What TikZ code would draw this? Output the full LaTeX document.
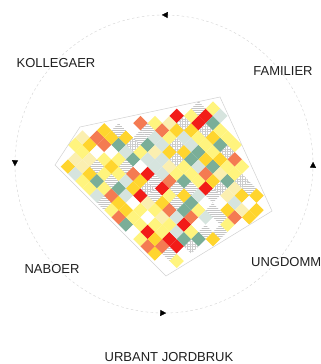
\documentclass[tikz,border=0pt]{standalone}
\usepackage{fontspec}
\setmainfont{Liberation Sans}
\usetikzlibrary{arrows.meta,decorations.markings,patterns.meta}
\definecolor{colRed}{HTML}{F21C18}
\definecolor{colOrg}{HTML}{F47B52}
\definecolor{colGold}{HTML}{FFD52E}
\definecolor{colYel}{HTML}{FFF47E}
\definecolor{colPale}{HTML}{FBEFB0}
\definecolor{colTeal}{HTML}{7AAE98}
\definecolor{colMint}{HTML}{D6E4DE}
\tikzset{
  ring/.style={draw=gray!35, line width=0.4pt, dash pattern=on 2.5pt off 2.5pt},
  lbl/.style={font=\fontsize{13}{15}\selectfont, text=black!88, inner sep=0pt},
  tRed/.style={fill=colRed}, tOrg/.style={fill=colOrg}, tGold/.style={fill=colGold},
  tYel/.style={fill=colYel}, tPale/.style={fill=colPale}, tTeal/.style={fill=colTeal},
  tMint/.style={fill=colMint}, tWhite/.style={fill=white},
  tHatch/.style={pattern={Lines[angle=0, distance=2pt, line width=0.25pt]}, pattern color=gray!45},
  tGrid/.style={pattern={Hatch[angle=0, distance=2.5pt, line width=0.25pt]}, pattern color=gray!40}
}
\def\tilecols{{"tYel","tYel","tYel","tYel","tGold","tGold","tGold","tTeal","tTeal","tMint",
  "tMint","tOrg","tOrg","tRed","tPale","tHatch","tHatch","tGrid","tHatch","tWhite"}}

\begin{document}
\begin{tikzpicture}[x=10pt, y=-10pt,
  declare function={side(\px,\py,\ax,\ay,\bx,\by)=((\bx-\ax)*(\py-\ay)-(\by-\ay)*(\px-\ax))
    -0.725*max(abs(\bx-\ax),abs(\by-\ay))+0.05*veclen(\bx-\ax,\by-\ay);}]
\clip (0,0) rectangle (32.1,36.4);
% ring with the four turning arrows
\coordinate (c) at (16.4,16.4);
\draw[ring, postaction={decorate}, decoration={markings,
    mark=at position 0.004 with {\arrow[black]{Triangle[reversed, length=6pt, width=6pt]}},
    mark=at position 0.254 with {\arrow[black]{Triangle[reversed, length=6pt, width=6pt]}},
    mark=at position 0.504 with {\arrow[black]{Triangle[reversed, length=6pt, width=6pt]}},
    mark=at position 0.754 with {\arrow[black]{Triangle[reversed, length=6pt, width=6pt]}}}]
  (c) circle (14.9);
\node[lbl] (kolleg) at (5.6,6.3) {KOLLEGAER};
\node[lbl] (famil) at (28.3,7.1) {FAMILIER};
\node[lbl, anchor=west] (ungdom) at (25.1,26.2) {UNGDOMM};
\node[lbl] (naboer) at (5.2,26.9) {NABOER};
\node[lbl] (urbant) at (16.9,35.7) {URBANT JORDBRUK};
% site outline and diamond tiles
\fill[white] (5.5,16.5) -- (8,12.7) -- (22,9.7) -- (27.2,21.1) -- (16.6,27.6) -- cycle;
\pgfmathsetseed{12}
\foreach \i in {0,...,19}{
  \foreach \j in {-5,...,23}{
    \pgfmathsetmacro\cx{6.07+(\i+\j)*0.725}
    \pgfmathsetmacro\cy{15.93+(\j-\i)*0.725}
    \pgfmathsetmacro\ok{min(side(\cx,\cy,5.5,16.5,8,12.7),side(\cx,\cy,8,12.7,22,9.7),
      side(\cx,\cy,22,9.7,27.2,21.1),side(\cx,\cy,27.2,21.1,16.6,27.6),side(\cx,\cy,16.6,27.6,5.5,16.5))}
    \pgfmathrandominteger{\k}{0}{19}
    \ifdim\ok pt>0pt
      \pgfmathsetmacro\tc{\tilecols[\k]}
      \path[\tc] (\cx+0.725,\cy) -- (\cx,\cy+0.725) -- (\cx-0.725,\cy) -- (\cx,\cy-0.725) -- cycle;
    \fi
  }
}
\draw[gray!35, line width=0.5pt]
  (5.5,16.5) -- (8,12.7) -- (22,9.7) -- (27.2,21.1) -- (16.6,27.6) -- cycle;
\end{tikzpicture}
\end{document}
